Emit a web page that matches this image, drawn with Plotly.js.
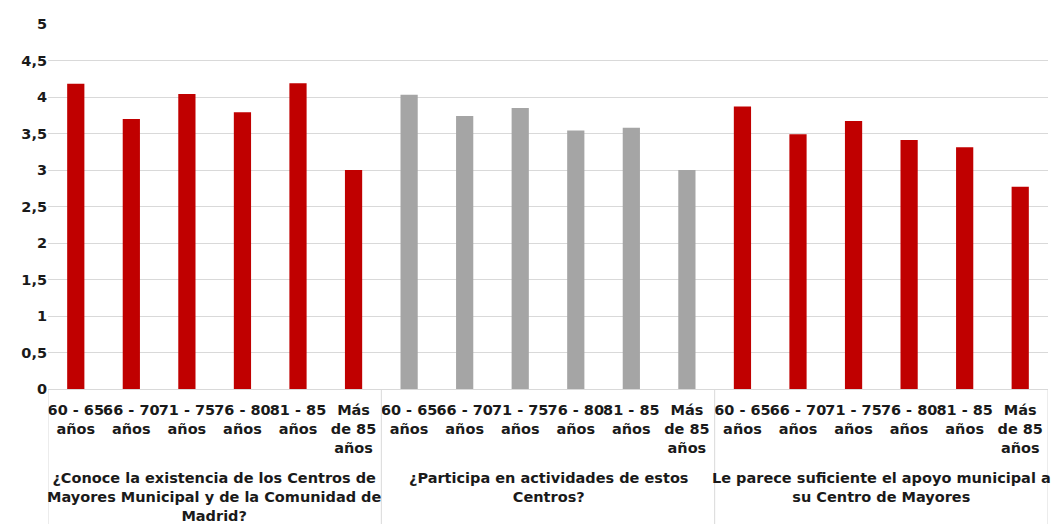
<!DOCTYPE html>
<html>
<head>
<meta charset="utf-8">
<script src="https://cdn.plot.ly/plotly-3.0.1.min.js"></script>
<style>html,body{margin:0;padding:0;background:#fff;}#chart{width:1052px;height:524px;}</style>
</head>
<body>
<div id="chart"></div>
<script>
const questions = [
  "¿Conoce la existencia de los Centros de<br>Mayores Municipal y de la Comunidad de<br>Madrid?",
  "¿Participa en actividades de estos<br>Centros?",
  "Le parece suficiente el apoyo municipal a<br>su Centro de Mayores"
];
const ageGroups = ["60 - 65<br>años", "66 - 70<br>años", "71 - 75<br>años", "76 - 80<br>años", "81 - 85<br>años", "Más<br>de 85<br>años"];
const conoceValues = [4.18, 3.70, 4.04, 3.79, 4.19, 3.00];
const participaValues = [4.03, 3.74, 3.85, 3.54, 3.58, 3.00];
const apoyoValues = [3.87, 3.49, 3.67, 3.41, 3.31, 2.77];
const seriesValues = [conoceValues, participaValues, apoyoValues];
const seriesColors = ["#C00000", "#A5A5A5", "#C00000"];

const font = {family: "DejaVu Sans, Verdana, sans-serif", size: 14.5, color: "#1a1a1a", weight: "bold"};

const nAge = ageGroups.length;
const traces = questions.map((q, i) => ({
  type: "bar",
  x: ageGroups.map((_, j) => i * nAge + j),
  y: seriesValues[i],
  marker: {color: seriesColors[i]},
  width: 0.31,
  hoverinfo: "y",
  showlegend: false
}));

const tickVals = [], tickText = [];
questions.forEach((q, i) => ageGroups.forEach((a, j) => { tickVals.push(i * nAge + j); tickText.push(a); }));

const plotH = 524 - 24 - 135;
const bottomPaper = -135 / plotH;

const annotations = questions.map((q, i) => ({
  text: q, xref: "x", yref: "paper",
  x: i * nAge + (nAge - 1) / 2, y: -79 / plotH,
  xanchor: "center", yanchor: "top", showarrow: false,
  font: font, align: "center"
}));

const shapes = [];
for (let i = 0; i <= questions.length; i++) {
  shapes.push({
    type: "line", xref: "x", yref: "paper",
    x0: i * nAge - 0.5, x1: i * nAge - 0.5, y0: 0, y1: bottomPaper,
    line: {color: "#D9D9D9", width: 1}
  });
}

const layout = {
  width: 1052, height: 524,
  margin: {l: 48, r: 4, t: 24, b: 135},
  paper_bgcolor: "#fff", plot_bgcolor: "#fff",
  barmode: "overlay",
  font: font,
  xaxis: {
    range: [-0.5, questions.length * nAge - 0.5],
    tickmode: "array", tickvals: tickVals, ticktext: tickText,
    tickfont: font, tickangle: 0,
    ticklabelstandoff: 8,
    showline: true, linecolor: "#D9D9D9", linewidth: 1,
    ticks: "", showgrid: false, zeroline: false, fixedrange: true
  },
  yaxis: {
    range: [0, 5], dtick: 0.5, tick0: 0,
    tickformat: ".1~f",
    tickfont: font,
    showgrid: true, gridcolor: "#D9D9D9", gridwidth: 1,
    zeroline: false, ticks: "",
    fixedrange: true
  },
  annotations: annotations,
  shapes: shapes,
  separators: ",."
};

Plotly.newPlot("chart", traces, layout, {displayModeBar: false, staticPlot: true});
</script>
</body>
</html>
